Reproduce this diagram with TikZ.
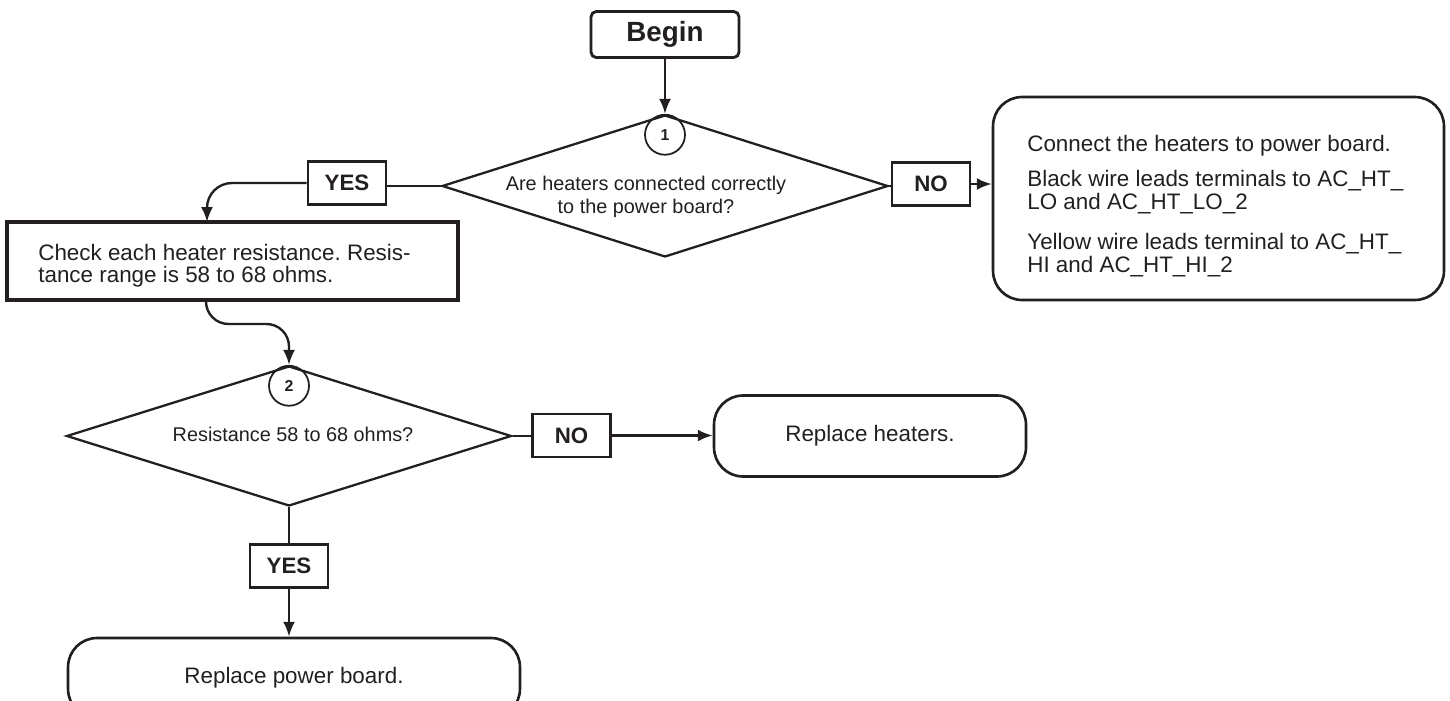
\documentclass[tikz,border=0pt]{standalone}
\usepackage{fontspec}
\setmainfont{Liberation Sans}
\frenchspacing
\usetikzlibrary{arrows.meta,positioning,shapes.geometric}
\definecolor{ink}{HTML}{231F20}
\tikzset{
  >={Latex[length=8.5pt,width=6.8pt]},
  every node/.style={text=ink},
  startbox/.style={draw=ink,line width=1.6pt,rounded corners=3pt,minimum width=2.96cm,minimum height=0.92cm,inner sep=0pt,font=\bfseries\fontsize{15.8pt}{17pt}\selectfont},
  decision/.style={diamond,draw=ink,line width=1.3pt,inner sep=0pt,aspect=3.1},
  marker/.style={circle,draw=ink,line width=1pt,minimum size=0.8cm,inner sep=0pt,font=\bfseries\fontsize{9pt}{10pt}\selectfont},
  tag/.style={draw=ink,line width=1.6pt,minimum width=1.56cm,minimum height=0.86cm,inner sep=0pt,font=\bfseries\fontsize{12.7pt}{14pt}\selectfont},
  procbox/.style={draw=ink,line width=1.8pt,inner sep=0pt},
  termbox/.style={draw=ink,line width=1.5pt,rounded corners=0.58cm,inner sep=0pt,font=\fontsize{12.75pt}{13pt}\selectfont},
  qtext/.style={align=center,inner sep=0pt,font=\fontsize{11.3pt}{13pt}\selectfont},
  bodytext/.style={align=left,inner sep=0pt,font=\fontsize{12.75pt}{13pt}\selectfont},
  arrow/.style={->,line width=1.35pt,draw=ink},
  link/.style={line width=1.35pt,draw=ink},
}

\begin{document}
\begin{tikzpicture}[x=0.02cm,y=-0.02cm]
  \useasboundingbox (0,0) rectangle (1450,700);

  % first question
  \node[startbox] (begin) at (665,34.5) {Begin};
  \node[decision,minimum width=8.92cm,minimum height=2.84cm] (dec1) at (665,186) {};
  \node[marker,anchor=north] (m1) at (dec1.north) {1};
  \node[qtext] (q1) at (646,197) {Are heaters connected correctly\\to the power board?};
  \node[tag] (yes1) at (347,183) {YES};
  \node[tag] (no1) at (931,184) {NO};
  \node[termbox,minimum width=9.02cm,minimum height=4.06cm] (conn) at (1218.5,198.5) {};
  \node[bodytext,anchor=north west] (conntext) at (1027,135) {Connect the heaters to power board.\\[6.8pt]
    Black wire leads terminals to AC\_HT\_\\LO and AC\_HT\_LO\_2\\[10.2pt]
    Yellow wire leads terminal to AC\_HT\_\\HI and AC\_HT\_HI\_2};
  \node[procbox,minimum width=9.02cm,minimum height=1.56cm] (check) at (232.5,261) {};
  \node[bodytext,anchor=north west,font=\fontsize{12.75pt}{12pt}\selectfont] (checktext) at (38,244)
    {Check each heater resistance. Resis-\\[0.6pt]tance range is 58 to 68 ohms.};
  \coordinate (chkin) at (207,222);
  \coordinate (chkout) at (206,300);

  % second question
  \node[decision,minimum width=8.9cm,minimum height=2.8cm] (dec2) at (289,436) {};
  \node[marker,anchor=north] (m2) at (dec2.north) {2};
  \node[qtext] (q2) at (293,434) {Resistance 58 to 68 ohms?};
  \node[tag] (no2) at (571.5,435.5) {NO};
  \node[termbox,minimum width=6.24cm,minimum height=1.62cm] (heaters) at (870,436) {Replace heaters.};
  \node[tag] (yes2) at (289,566) {YES};
  \node[termbox,minimum width=9.04cm,minimum height=1.6cm] (board) at (294,678) {Replace power board.};

  \draw[arrow] (begin) -- (dec1.north);
  \draw[link] (dec1.west) -- (dec1.west -| yes1.east);
  \draw[arrow,rounded corners=0.5cm] (yes1.west) -| (chkin);
  \draw[link] (dec1.east) -- (dec1.east -| no1.west);
  \draw[arrow] (no1.east) -- (no1.east -| conn.west);
  \draw[arrow,rounded corners=0.45cm] (chkout) -- ++(0,24) -| (dec2.north);
  \draw[link] (dec2.east) -- (dec2.east -| no2.west);
  \draw[arrow] (no2.east) -- (no2.east -| heaters.west);
  \draw[link] (dec2.south) -- (yes2.north);
  \draw[arrow] (yes2.south) -- (yes2.south |- board.north);
\end{tikzpicture}
\end{document}
